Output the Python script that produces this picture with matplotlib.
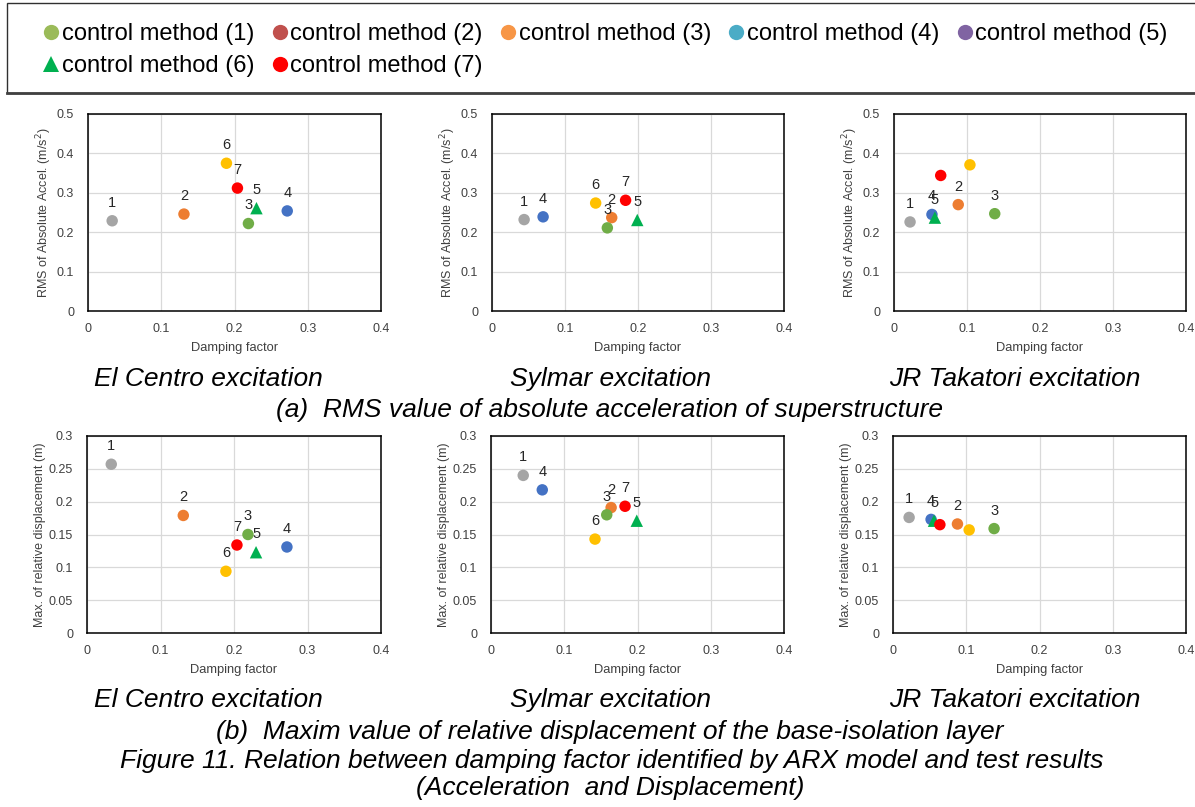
import numpy as np
import matplotlib.pyplot as plt
from matplotlib.lines import Line2D
from matplotlib.patches import Rectangle
from matplotlib.ticker import FuncFormatter

plt.rcParams['font.family'] = ['Liberation Sans', 'DejaVu Sans']

# ----------------------------------------------------------
# data
# ----------------------------------------------------------
method_ids = [1, 2, 3, 4, 5, 6, 7]
legend_labels = ["control method (%d)" % m for m in method_ids]
legend_colors = ["#9BBB59", "#C0504D", "#F79646", "#4BACC6", "#8064A2", "#00B050", "#FF0000"]
legend_markers = ["o", "o", "o", "o", "o", "^", "o"]

point_colors = ["#A5A5A5", "#ED7D31", "#70AD47", "#4472C4", "#00B050", "#FFC000", "#FF0000"]
point_markers = ["o", "o", "o", "o", "^", "o", "o"]

excitations = ["El Centro excitation", "Sylmar excitation", "JR Takatori excitation"]

damping_elcentro = [0.033, 0.131, 0.219, 0.272, 0.230, 0.189, 0.204]
rms_elcentro = [0.229, 0.246, 0.222, 0.254, 0.261, 0.375, 0.312]
disp_elcentro = [0.257, 0.179, 0.150, 0.131, 0.123, 0.094, 0.134]

damping_sylmar = [0.044, 0.164, 0.158, 0.070, 0.199, 0.142, 0.183]
rms_sylmar = [0.232, 0.237, 0.211, 0.239, 0.231, 0.274, 0.281]
disp_sylmar = [0.240, 0.191, 0.180, 0.218, 0.171, 0.143, 0.193]

damping_takatori = [0.022, 0.088, 0.138, 0.052, 0.056, 0.104, 0.064]
rms_takatori = [0.226, 0.270, 0.247, 0.245, 0.237, 0.371, 0.344]
disp_takatori = [0.176, 0.166, 0.159, 0.173, 0.171, 0.157, 0.165]

# which point numbers carry a label in each excitation
shown_labels = [[1, 2, 3, 4, 5, 6, 7], [1, 2, 3, 4, 5, 6, 7], [1, 2, 3, 4, 5]]

damping = [damping_elcentro, damping_sylmar, damping_takatori]
rms = [rms_elcentro, rms_sylmar, rms_takatori]
disp = [disp_elcentro, disp_sylmar, disp_takatori]

x_ticks = [0, 0.1, 0.2, 0.3, 0.4]
rms_ticks = [0, 0.1, 0.2, 0.3, 0.4, 0.5]
disp_ticks = [0, 0.05, 0.1, 0.15, 0.2, 0.25, 0.3]

# ----------------------------------------------------------
# figure
# ----------------------------------------------------------
W, H = 1195, 807
fig = plt.figure(figsize=(W / 100, H / 100), dpi=100)


def px_axes(left, top, right, bottom):
    return fig.add_axes([left / W, 1 - bottom / H, (right - left) / W, (bottom - top) / H])


def style_axes(ax, yticks, ylabel):
    ax.set_xlim(0, 0.4)
    ax.set_ylim(yticks[0], yticks[-1])
    ax.set_xticks(x_ticks)
    ax.set_yticks(yticks)
    fmt = FuncFormatter(lambda v, p: "%g" % v)
    ax.xaxis.set_major_formatter(fmt)
    ax.yaxis.set_major_formatter(fmt)
    ax.tick_params(length=0, labelsize=9, labelcolor="#404040")
    ax.tick_params(axis="y", pad=10)
    ax.tick_params(axis="x", pad=9)
    ax.grid(True, color="#D9D9D9", lw=0.9)
    ax.set_axisbelow(True)
    for s in ax.spines.values():
        s.set_color("black")
        s.set_linewidth(1.1)
    ax.set_xlabel("Damping factor", fontsize=9.3, color="#404040", labelpad=5)
    ax.set_ylabel(ylabel, fontsize=9, color="#404040", labelpad=2)


def draw_points(ax, xs, ys, labels):
    for i, m in enumerate(method_ids):
        ax.scatter(xs[i], ys[i], s=80 if point_markers[i] == "^" else 68,
                   marker=point_markers[i], color=point_colors[i],
                   edgecolors="none", zorder=3)
        if m in labels:
            ax.annotate(str(m), (xs[i], ys[i]), xytext=(0, 13),
                        textcoords="offset points", ha="center", va="center",
                        fontsize=10.5, color="#262626", zorder=4)


lefts = [88, 492, 894]
rights = [381, 784, 1186]

for j in range(3):
    ax = px_axes(lefts[j], 114, rights[j], 311)
    style_axes(ax, rms_ticks, "RMS of Absolute Accel. (m/s$^2$)")
    draw_points(ax, damping[j], rms[j], shown_labels[j])

    ax = px_axes(lefts[j] - 1, 436, rights[j], 633)
    style_axes(ax, disp_ticks, "Max. of relative displacement (m)")
    draw_points(ax, damping[j], disp[j], shown_labels[j])

# captions
cap_x = [208, 610, 1015]
for j in range(3):
    fig.text(cap_x[j] / W, 1 - 386 / H, excitations[j], ha="center", va="baseline",
             fontsize=19, style="italic")
    fig.text(cap_x[j] / W, 1 - 707 / H, excitations[j], ha="center", va="baseline",
             fontsize=19, style="italic")

fig.text(610 / W, 1 - 417 / H, "(a)  RMS value of absolute acceleration of superstructure",
         ha="center", va="baseline", fontsize=19, style="italic")
fig.text(610 / W, 1 - 739 / H,
         "(b)  Maxim value of relative displacement of the base-isolation layer",
         ha="center", va="baseline", fontsize=19, style="italic")
fig.text(612 / W, 1 - 768 / H,
         "Figure 11. Relation between damping factor identified by ARX model and test results",
         ha="center", va="baseline", fontsize=19, style="italic")
fig.text(610 / W, 1 - 795 / H, "(Acceleration  and Displacement)",
         ha="center", va="baseline", fontsize=19, style="italic")

# legend (column-major order so that it reads row by row)
handles = [Line2D([], [], marker=legend_markers[i], color=legend_colors[i],
                  linestyle="none", markersize=11, markeredgewidth=0)
           for i in range(7)]
order = [0, 5, 1, 6, 2, 3, 4]
fig.legend([handles[i] for i in order], [legend_labels[i] for i in order],
           ncol=5, loc="upper left", bbox_to_anchor=(43 / W, 1 - 23 / H),
           frameon=False, fontsize=17, handlelength=0.7, handletextpad=0.1,
           columnspacing=0.72, labelspacing=0.42, borderpad=0, borderaxespad=0)

fig.patches.append(Rectangle((7 / W, 1 - 93 / H), 1.02, 90 / H, transform=fig.transFigure,
                             fill=False, edgecolor="#303030", lw=1.0))
fig.add_artist(Line2D([7 / W, 1], [1 - 93 / H, 1 - 93 / H], transform=fig.transFigure,
                      color="#404040", lw=2))

fig.savefig("out.png", dpi=100)
